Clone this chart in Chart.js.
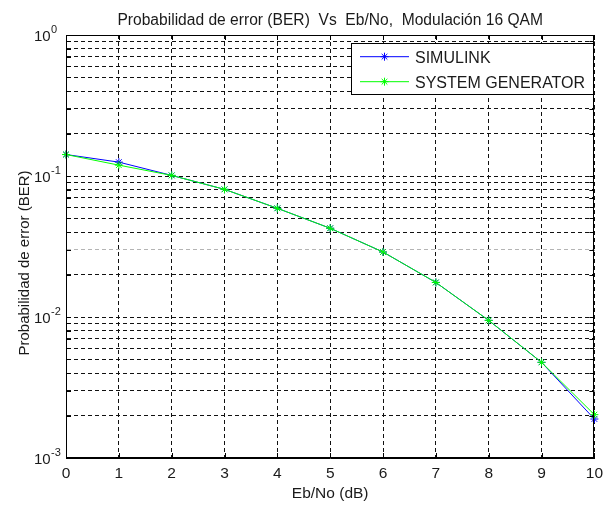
<!DOCTYPE html>
<html>
<head>
<meta charset="utf-8">
<script src="https://cdn.jsdelivr.net/npm/chart.js@4.4.1/dist/chart.umd.min.js"></script>
<style>
  html, body { margin: 0; padding: 0; background: #fff; }
  #wrap { width: 609px; height: 506px; }
</style>
</head>
<body>
<div id="wrap"><canvas id="c" width="609" height="506"></canvas></div>
<script>
// Eb/No sweep (dB) and measured bit error rates
const ebNo = [0, 1, 2, 3, 4, 5, 6, 7, 8, 9, 10];
const berSimulink = [0.142, 0.1254, 0.101, 0.0804, 0.059, 0.0426, 0.0289, 0.01758, 0.00946, 0.00477, 0.00189];
const berSysGen   = [0.142, 0.1194, 0.101, 0.0804, 0.059, 0.0426, 0.0289, 0.01758, 0.00946, 0.00477, 0.00203];

// Log axis: decades with their exponent labels, plus minor grid multipliers
const yDecades = [1e-3, 1e-2, 1e-1, 1];
const yExponents = ['-3', '-2', '-1', '0'];
const yMinorSteps = [2, 3, 4, 5, 6, 7, 8, 9];

const seriesNames = ['SIMULINK', 'SYSTEM GENERATOR'];
const titleText = 'Probabilidad de error (BER)  Vs  Eb/No,  Modulación 16 QAM';
const xTitle = 'Eb/No (dB)';
const yTitle = 'Probabilidad de error (BER)';

const FONT = '"Liberation Sans", Arial, Helvetica, sans-serif';
const TEXT = '#1a1a1a';

// every grid value on the log axis
const yGridValues = [];
yDecades.forEach((d, i) => {
  yGridValues.push(d);
  if (i < yDecades.length - 1) yMinorSteps.forEach(m => yGridValues.push(+(d * m).toPrecision(3)));
});
yGridValues.sort((a, b) => a - b);

const toPoints = arr => ebNo.map((x, i) => ({ x: x, y: arr[i] }));

// frame, inward tick marks, labels and legend box
const decorations = {
  id: 'decorations',
  afterDraw(chart) {
    const { ctx, chartArea: a, scales } = chart;
    const xs = scales.x, ys = scales.y;
    ctx.save();

    // axes box
    ctx.strokeStyle = '#000';
    ctx.lineWidth = 1;
    ctx.strokeRect(Math.round(a.left) + 0.5, Math.round(a.top) + 0.5,
                   Math.round(a.right - a.left) - 1, Math.round(a.bottom - a.top) - 1);

    // inward tick marks on all four sides
    const tl = 5;
    ctx.beginPath();
    yGridValues.forEach(v => {
      const y = Math.round(ys.getPixelForValue(v)) + 0.5;
      ctx.moveTo(a.left, y); ctx.lineTo(a.left + tl, y);
      ctx.moveTo(a.right, y); ctx.lineTo(a.right - tl, y);
    });
    ebNo.forEach(v => {
      const x = Math.round(xs.getPixelForValue(v)) + 0.5;
      ctx.moveTo(x, a.bottom); ctx.lineTo(x, a.bottom - tl);
      ctx.moveTo(x, a.top); ctx.lineTo(x, a.top + tl);
    });
    ctx.stroke();

    // y tick labels: 10 with superscript exponent
    ctx.fillStyle = TEXT;
    yDecades.forEach((d, i) => {
      const y = ys.getPixelForValue(d);
      ctx.font = '15px ' + FONT;
      ctx.textAlign = 'right';
      ctx.textBaseline = 'middle';
      ctx.fillText('10', 50.7, y + 1.5);
      ctx.font = '11px ' + FONT;
      ctx.textAlign = 'left';
      ctx.fillText(yExponents[i], 51, y - 5);
    });

    // chart title
    ctx.font = '15.6px ' + FONT;
    ctx.textAlign = 'center';
    ctx.textBaseline = 'alphabetic';
    ctx.fillText(titleText, (a.left + a.right) / 2, 25);

    // y axis title
    ctx.save();
    ctx.font = '15px ' + FONT;
    ctx.translate(28.5, 263);
    ctx.rotate(-Math.PI / 2);
    ctx.textAlign = 'center';
    ctx.textBaseline = 'alphabetic';
    ctx.fillText(yTitle, 0, 0);
    ctx.restore();

    // legend
    const lx = 351, ly = 43, lw = 242, lh = 51;
    ctx.fillStyle = '#fff';
    ctx.fillRect(lx, ly, lw, lh);
    ctx.strokeStyle = '#000';
    ctx.strokeRect(lx + 0.5, ly + 0.5, lw, lh);
    const rows = [56.7, 81.7];
    chart.data.datasets.forEach((ds, i) => {
      const y = rows[i];
      ctx.strokeStyle = ds.borderColor;
      ctx.lineWidth = 1;
      ctx.beginPath();
      ctx.moveTo(360, y); ctx.lineTo(409, y);
      ctx.stroke();
      Chart.helpers.drawPoint(ctx, { pointStyle: 'star', radius: 4, borderWidth: 1 }, 384.5, y);
      ctx.fillStyle = TEXT;
      ctx.font = '16px ' + FONT;
      ctx.textAlign = 'left';
      ctx.textBaseline = 'middle';
      ctx.fillText(ds.label, 415, y + 1.5);
    });
    ctx.restore();
  }
};

const gridColor = ctx => (ctx.tick && Math.abs(ctx.tick.value - 0.03) < 1e-9) ? '#b4b4b4' : '#111';

new Chart(document.getElementById('c'), {
  type: 'line',
  data: {
    datasets: [
      {
        label: seriesNames[0],
        data: toPoints(berSimulink),
        borderColor: '#0000ff',
        backgroundColor: '#0000ff',
        borderWidth: 1,
        pointStyle: 'star',
        pointRadius: 4,
        pointBorderWidth: 1,
        tension: 0,
        clip: false,
        order: 1
      },
      {
        label: seriesNames[1],
        data: toPoints(berSysGen),
        borderColor: '#00ff00',
        backgroundColor: '#00ff00',
        borderWidth: 1,
        pointStyle: 'star',
        pointRadius: 4,
        pointBorderWidth: 1,
        tension: 0,
        clip: false,
        order: 0
      }
    ]
  },
  options: {
    responsive: false,
    animation: false,
    devicePixelRatio: 1,
    layout: { padding: { top: 35, right: 9, left: 0, bottom: 0 } },
    plugins: {
      legend: { display: false },
      title: { display: false },
      tooltip: { enabled: false }
    },
    scales: {
      x: {
        type: 'linear',
        min: 0,
        max: 10,
        afterFit: s => { s.height = 48; },
        afterBuildTicks: s => { s.ticks = ebNo.map(v => ({ value: v })); },
        ticks: { font: { family: FONT, size: 15.5 }, color: TEXT, padding: 6, autoSkip: false, maxRotation: 0 },
        grid: { color: gridColor, lineWidth: 1, drawTicks: false },
        border: { display: true, color: '#000', dash: [4, 3] },
        title: { display: true, text: xTitle, color: TEXT, font: { family: FONT, size: 15.5 }, padding: { top: 0, bottom: 3 } }
      },
      y: {
        type: 'logarithmic',
        min: 1e-3,
        max: 1,
        afterFit: s => { s.width = 66; },
        afterBuildTicks: s => { s.ticks = yGridValues.map(v => ({ value: v, major: yDecades.includes(v) })); },
        ticks: { display: false, autoSkip: false },
        grid: { color: gridColor, lineWidth: 1, drawTicks: false },
        border: { display: true, color: '#000', dash: [4, 3] }
      }
    }
  },
  plugins: [decorations]
});
</script>
</body>
</html>
